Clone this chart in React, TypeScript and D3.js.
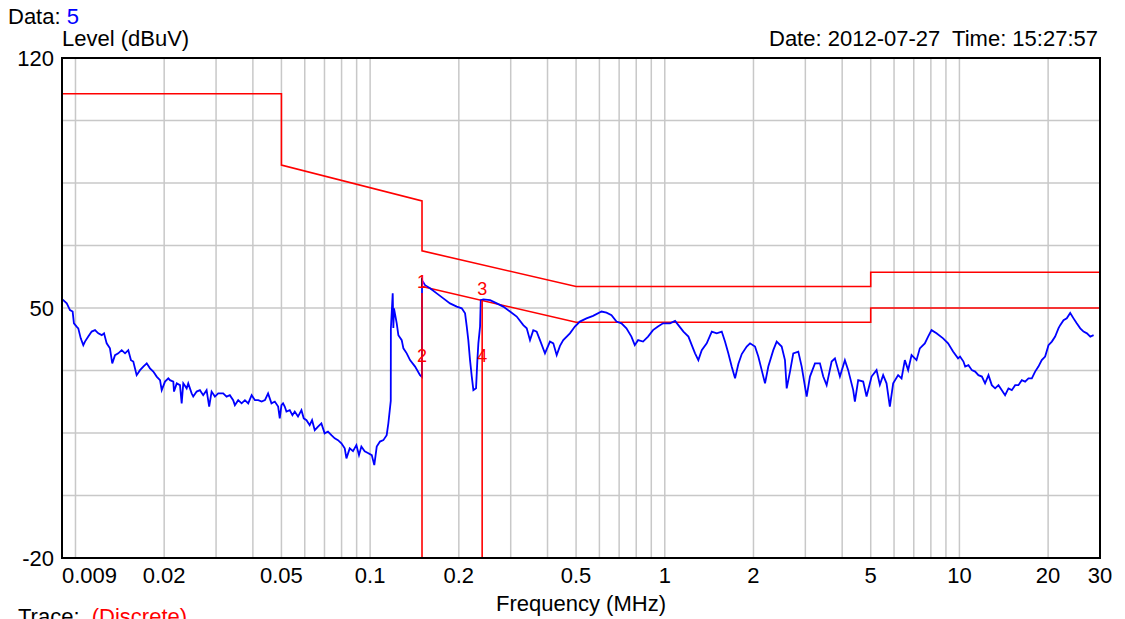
// App.tsx
import * as d3 from "d3";
import { useEffect, useRef } from "react";

const width = 1125;
const height = 619;
const margin = { top: 58, right: 25, bottom: 61, left: 62 };
const font = "'Liberation Sans', Arial, sans-serif";

const xTicks = [0.009, 0.02, 0.05, 0.1, 0.2, 0.5, 1, 2, 5, 10, 20, 30];
const xGrid = [
  0.01, 0.02, 0.03, 0.04, 0.05, 0.06, 0.07, 0.08, 0.09,
  0.1, 0.2, 0.3, 0.4, 0.5, 0.6, 0.7, 0.8, 0.9,
  1, 2, 3, 4, 5, 6, 7, 8, 9,
  10, 20,
];
const yTicks = [120, 50, -20];
const yGrid = [102.5, 85, 67.5, 50, 32.5, 15, -2.5];

// limit lines (MHz, dBuV)
const qpLimit = [
  [0.009, 110], [0.05, 110], [0.05, 90], [0.15, 80], [0.15, 66],
  [0.5, 56], [5, 56], [5, 60], [30, 60],
];
const avgLimit = [[0.15, 56], [0.5, 46], [5, 46], [5, 50], [30, 50]];

// discrete readings + markers
const discrete = [[0.15, 54.2], [0.24, 52.2]];
const markers = [
  { label: "1", f: 0.15, v: 54.2 },
  { label: "2", f: 0.15, v: 33.5 },
  { label: "3", f: 0.24, v: 52.2 },
  { label: "4", f: 0.24, v: 33.5 },
];

// scan trace, 9 kHz - 150 kHz
const traceLow = [
  [0.009, 52.5], [0.00909, 52.2], [0.00934, 51.3], [0.00958, 49.4], [0.00978, 49.0],
  [0.00988, 45.7], [0.01009, 44.8], [0.01022, 44.3], [0.01042, 41.5], [0.01063, 39.6],
  [0.01077, 40.6], [0.01105, 42.0], [0.01135, 43.4], [0.01165, 43.8], [0.01195, 42.9],
  [0.01228, 42.4], [0.0125, 42.9], [0.01276, 40.1], [0.01309, 38.7], [0.01333, 34.5],
  [0.01362, 36.8], [0.01397, 37.3], [0.01435, 38.2], [0.01473, 37.3], [0.01511, 38.2],
  [0.01543, 35.4], [0.01571, 35.0], [0.01613, 31.2], [0.01656, 32.6], [0.01699, 33.6],
  [0.01745, 34.5], [0.0179, 33.1], [0.01837, 32.2], [0.01886, 30.8], [0.01936, 29.8],
  [0.01962, 27.0], [0.02013, 29.4], [0.02066, 30.3], [0.02093, 29.8], [0.02148, 29.4],
  [0.0216, 26.6], [0.02206, 28.9], [0.02263, 28.4], [0.02293, 23.3], [0.02322, 28.9],
  [0.02384, 27.5], [0.02414, 28.9], [0.02479, 26.1], [0.0251, 25.2], [0.02578, 26.6],
  [0.02645, 27.0], [0.02713, 25.6], [0.02786, 27.0], [0.02843, 22.4], [0.02897, 26.6],
  [0.02973, 25.2], [0.03051, 26.1], [0.03172, 26.1], [0.03257, 25.2], [0.03341, 25.6],
  [0.03429, 24.2], [0.03475, 22.8], [0.03566, 24.2], [0.03663, 23.3], [0.03759, 24.2],
  [0.03857, 23.3], [0.03962, 25.6], [0.04065, 24.2], [0.04172, 24.2], [0.04284, 23.8],
  [0.04396, 24.2], [0.04505, 26.1], [0.04626, 23.3], [0.04748, 23.8], [0.04873, 22.4],
  [0.04935, 19.1], [0.05001, 22.8], [0.05064, 23.3], [0.05131, 22.4], [0.052, 21.0],
  [0.05336, 21.4], [0.05449, 20.0], [0.05548, 21.0], [0.05692, 19.6], [0.05846, 21.4],
  [0.05952, 19.1], [0.06082, 18.6], [0.06236, 17.2], [0.06353, 18.6], [0.06488, 15.8],
  [0.06657, 16.8], [0.06832, 17.7], [0.07009, 14.9], [0.07192, 15.4], [0.07388, 14.4],
  [0.07583, 13.5], [0.0778, 13.0], [0.07989, 12.1], [0.082, 10.7], [0.08309, 7.9],
  [0.08526, 10.7], [0.08747, 9.9], [0.08982, 11.6], [0.09166, 8.8], [0.09339, 11.2],
  [0.09583, 9.9], [0.09829, 9.4], [0.1013, 8.8], [0.1033, 6.0], [0.1053, 11.2],
  [0.108, 12.6], [0.1109, 13.0], [0.1138, 14.4], [0.1153, 17.7], [0.1175, 24.0],
  [0.1176, 44.2], [0.1193, 54.1], [0.1199, 44.4], [0.1205, 49.9], [0.1231, 45.7],
  [0.1247, 42.4], [0.128, 41.0], [0.1297, 38.7], [0.1331, 37.3], [0.1366, 35.4],
  [0.1421, 33.6], [0.1477, 31.2], [0.1499, 30.7],
];

// 150 kHz - 1 MHz
const traceMid = [
  [0.15, 57.8], [0.1536, 56.4], [0.1597, 55.5], [0.1683, 54.1], [0.1772, 52.7],
  [0.1867, 51.3], [0.1968, 50.4], [0.2046, 49.9], [0.21, 48.5], [0.2128, 44.8],
  [0.2154, 41.0], [0.2183, 35.4], [0.2213, 30.8], [0.2241, 27.0], [0.2288, 27.5],
  [0.2312, 35.4], [0.233, 40.1], [0.2361, 44.8], [0.2374, 52.2], [0.2423, 52.4],
  [0.2554, 52.2], [0.2691, 51.3], [0.283, 50.4], [0.2983, 49.0], [0.3144, 47.6],
  [0.331, 45.2], [0.34, 44.3], [0.3488, 41.0], [0.3579, 43.8], [0.3675, 43.4],
  [0.3771, 41.0], [0.3921, 37.3], [0.4077, 40.6], [0.4185, 40.1], [0.4297, 36.8],
  [0.4409, 39.4], [0.4524, 41.0], [0.4765, 42.9], [0.4954, 44.8], [0.515, 46.2],
  [0.5424, 47.1], [0.571, 47.8], [0.6101, 49.0], [0.6343, 48.7], [0.6595, 48.0],
  [0.6856, 46.2], [0.7128, 45.7], [0.7411, 44.3], [0.7705, 42.0], [0.7911, 39.6],
  [0.8117, 41.0], [0.8439, 40.6], [0.8774, 42.0], [0.9122, 43.8], [0.9484, 44.8],
  [0.986, 45.7],
];

// 1 MHz - 30 MHz
const traceHigh = [
  [1.042, 45.7], [1.084, 46.4], [1.112, 45.2], [1.157, 43.4], [1.203, 42.0],
  [1.235, 39.6], [1.267, 37.3], [1.3, 35.4], [1.335, 38.2], [1.388, 40.1],
  [1.444, 43.4], [1.501, 42.9], [1.561, 43.4], [1.601, 40.6], [1.643, 37.3],
  [1.687, 33.6], [1.732, 30.3], [1.777, 34.3], [1.825, 37.1], [1.897, 39.2],
  [1.947, 40.1], [2.024, 39.2], [2.077, 36.4], [2.133, 32.6], [2.189, 28.9],
  [2.246, 33.6], [2.335, 38.2], [2.398, 40.6], [2.493, 39.2], [2.558, 35.4],
  [2.593, 27.5], [2.661, 32.2], [2.73, 37.3], [2.839, 37.8], [2.915, 33.6],
  [3.031, 25.2], [3.11, 30.8], [3.234, 34.5], [3.362, 34.5], [3.45, 30.8],
  [3.543, 28.4], [3.684, 35.0], [3.78, 35.9], [3.93, 30.8], [4.086, 35.4],
  [4.193, 32.6], [4.36, 27.0], [4.418, 23.8], [4.534, 29.8], [4.714, 29.4],
  [4.84, 25.2], [5.033, 30.8], [5.233, 32.6], [5.37, 28.5], [5.51, 31.2],
  [5.658, 28.9], [5.806, 22.4], [5.959, 28.9], [6.195, 31.2], [6.362, 30.3],
  [6.528, 35.4], [6.699, 32.6], [6.879, 36.8], [7.152, 35.4], [7.339, 38.7],
  [7.631, 40.1], [7.83, 42.0], [8.042, 43.8], [8.361, 42.9], [8.802, 41.5],
  [9.152, 40.1], [9.515, 37.8], [9.894, 35.9], [10.05, 36.4], [10.32, 35.0],
  [10.46, 33.6], [10.73, 34.0], [11.02, 32.6], [11.31, 32.2], [11.6, 31.2],
  [11.92, 30.8], [12.22, 28.9], [12.55, 31.2], [12.88, 28.4], [13.22, 27.5],
  [13.57, 28.4], [13.93, 27.0], [14.29, 25.6], [14.67, 27.5], [15.06, 27.0],
  [15.46, 28.4], [15.86, 28.4], [16.28, 29.8], [16.71, 29.4], [17.15, 30.3],
  [17.61, 30.3], [18.07, 32.2], [18.54, 33.6], [19.03, 35.4], [19.54, 36.4],
  [20.06, 39.6], [20.59, 40.6], [21.13, 42.0], [21.68, 44.3], [21.98, 45.2],
  [22.56, 46.6], [23.14, 47.1], [23.77, 48.6], [24.39, 47.1], [25.01, 45.7],
  [25.71, 44.3], [26.38, 43.4], [27.09, 42.9], [27.81, 42.0], [28.54, 42.4],
];

export default function App() {
  const svgRef = useRef<SVGSVGElement>(null);

  useEffect(() => {
    const svg = d3.select(svgRef.current);
    svg.selectAll("*").remove();

    const x0 = margin.left;
    const x1 = width - margin.right;
    const y0 = margin.top;
    const y1 = height - margin.bottom;

    const x = d3.scaleLog().domain([0.009, 30]).range([x0, x1]);
    const y = d3.scaleLinear().domain([-20, 120]).range([y1, y0]);

    svg.append("rect").attr("width", width).attr("height", height).attr("fill", "#fff");

    svg.append("defs").append("clipPath").attr("id", "plot-clip")
      .append("rect").attr("x", x0).attr("y", y0).attr("width", x1 - x0).attr("height", y1 - y0);

    // grid
    const grid = svg.append("g").attr("stroke", "#c8c8c8").attr("stroke-width", 1.5);
    grid.selectAll(".vg").data(xGrid).enter().append("line")
      .attr("x1", d => x(d)).attr("x2", d => x(d))
      .attr("y1", y0).attr("y2", y1);
    grid.selectAll(".hg").data(yGrid).enter().append("line")
      .attr("x1", x0).attr("x2", x1)
      .attr("y1", d => y(d)).attr("y2", d => y(d));

    const plot = svg.append("g").attr("clip-path", "url(#plot-clip)");
    const line = d3.line<number[]>().x(d => x(d[0])).y(d => y(d[1]));

    // limits
    [qpLimit, avgLimit].forEach(lim => {
      plot.append("path").attr("d", line(lim)).attr("fill", "none")
        .attr("stroke", "#ff0000").attr("stroke-width", 1.6);
    });

    // trace
    const trace = [...traceLow, ...traceMid, ...traceHigh];
    plot.append("path").attr("d", line(trace)).attr("fill", "none")
      .attr("stroke", "#0000ff").attr("stroke-width", 1.8)
      .attr("stroke-linejoin", "miter");

    // discrete readings drawn from the bottom up
    plot.selectAll(".disc").data(discrete).enter().append("line")
      .attr("x1", d => x(d[0])).attr("x2", d => x(d[0]))
      .attr("y1", y(-20)).attr("y2", d => y(d[1]))
      .attr("stroke", "#ff0000").attr("stroke-width", 1.6);

    svg.selectAll(".mk").data(markers).enter().append("text")
      .attr("x", d => x(d.f)).attr("y", d => y(d.v) - 5)
      .attr("text-anchor", "middle")
      .style("font-family", font).style("font-size", "18px")
      .style("fill", "#ff0000")
      .text(d => d.label);

    // frame
    svg.append("rect").attr("x", x0).attr("y", y0)
      .attr("width", x1 - x0).attr("height", y1 - y0)
      .attr("fill", "none").attr("stroke", "#000").attr("stroke-width", 2);

    // axis labels
    svg.selectAll(".xt").data(xTicks).enter().append("text")
      .attr("x", d => (d === xTicks[0] ? x0 : x(d)))
      .attr("y", y1 + 25)
      .attr("text-anchor", d => (d === xTicks[0] ? "start" : "middle"))
      .style("font-family", font).style("font-size", "22px").style("fill", "#000")
      .text(d => String(d));

    svg.selectAll(".yt").data(yTicks).enter().append("text")
      .attr("x", x0 - 8)
      .attr("y", d => y(d) + 8)
      .attr("text-anchor", "end")
      .style("font-family", font).style("font-size", "22px").style("fill", "#000")
      .text(d => String(d));

    const txt = (tx: number, ty: number, s: string, anchor = "start") =>
      svg.append("text").attr("x", tx).attr("y", ty).attr("text-anchor", anchor)
        .style("font-family", font).style("font-size", "22px").style("fill", "#000")
        .text(s);

    const data = txt(8, 24, "Data: ");
    data.append("tspan").style("fill", "#0000ff").text("5");
    txt(x0, 46, "Level (dBuV)");
    txt(x1 - 2, 46, "Date: 2012-07-27  Time: 15:27:57", "end").style("white-space", "pre");
    txt((x0 + x1) / 2, 611, "Frequency (MHz)", "middle");
    const trc = txt(18, 624, "Trace:  ").style("white-space", "pre");
    trc.append("tspan").style("fill", "#ff0000").text("(Discrete)");
  }, []);

  return (
    <svg
      ref={svgRef}
      width={width}
      height={height}
      style={{ position: "absolute", left: 0, top: 0, display: "block" }}
    />
  );
}
